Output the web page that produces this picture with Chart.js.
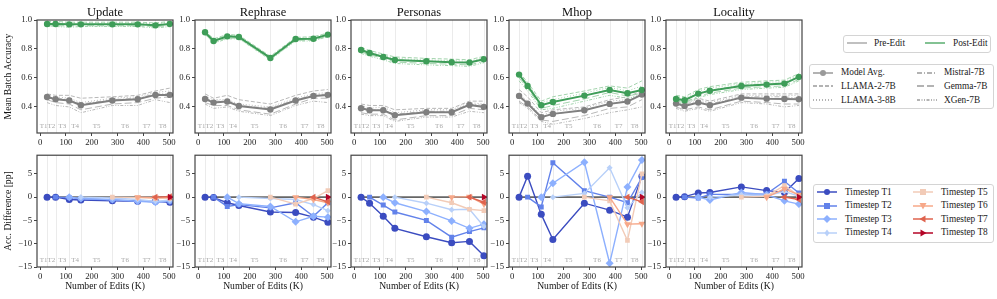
<!DOCTYPE html>
<html>
<head>
<meta charset="utf-8">
<script src="https://cdn.jsdelivr.net/npm/chart.js@4.4.1/dist/chart.umd.min.js"></script>
<style>
  body { margin: 0; width: 997px; height: 299px; position: relative; background: #fff; overflow: hidden;
         font-family: "Liberation Serif", serif; }
  canvas { position: absolute; }
  .box { position: absolute; border: 1px solid #d4d4d4; border-radius: 3px; background: #fff; }
  .txt { position: absolute; white-space: nowrap; font-size: 9.3px; line-height: 12px; color: #222; }
  svg.h { position: absolute; }
</style>
</head>
<body>
<script>
// ---- data ----
const xEdits = [27, 60, 113, 158, 280, 378, 447, 503];
const stepLabels = ["T1", "T2", "T3", "T4", "T5", "T6", "T7", "T8"];
const xTicks = [0, 100, 200, 300, 400, 500];
const accTicks = [0.4, 0.6, 0.8, 1.0];
const diffTicks = [-15, -10, -5, 0, 5];
const tasks = ["Update", "Rephrase", "Personas", "Mhop", "Locality"];
const models = ["LLAMA-2-7B", "LLAMA-3-8B", "Mistral-7B", "Gemma-7B", "XGen-7B"];

const updatePreAvg  = [0.469, 0.453, 0.444, 0.412, 0.444, 0.453, 0.483, 0.483];
const updatePostAvg = [0.972, 0.972, 0.970, 0.970, 0.970, 0.970, 0.963, 0.972];
const updatePre = [
  [0.49, 0.48, 0.48, 0.46, 0.47, 0.48, 0.51, 0.53],
  [0.48, 0.47, 0.46, 0.43, 0.46, 0.47, 0.50, 0.51],
  [0.47, 0.46, 0.45, 0.42, 0.45, 0.46, 0.49, 0.49],
  [0.45, 0.43, 0.42, 0.38, 0.42, 0.43, 0.46, 0.47],
  [0.43, 0.41, 0.40, 0.36, 0.41, 0.41, 0.45, 0.43],
];
const updatePost = [
  [0.99, 0.99, 0.985, 0.985, 0.985, 0.985, 0.98, 0.99],
  [0.98, 0.98, 0.98, 0.98, 0.98, 0.98, 0.975, 0.985],
  [0.975, 0.975, 0.97, 0.97, 0.97, 0.97, 0.965, 0.975],
  [0.96, 0.96, 0.96, 0.96, 0.96, 0.96, 0.955, 0.96],
  [0.955, 0.955, 0.95, 0.955, 0.955, 0.955, 0.945, 0.955],
];

const rephrasePreAvg  = [0.455, 0.430, 0.437, 0.407, 0.382, 0.444, 0.476, 0.483];
const rephrasePostAvg = [0.915, 0.855, 0.887, 0.883, 0.738, 0.869, 0.871, 0.899];
const rephrasePre = [
  [0.49, 0.46, 0.48, 0.45, 0.42, 0.48, 0.51, 0.52],
  [0.47, 0.45, 0.45, 0.42, 0.40, 0.46, 0.49, 0.50],
  [0.46, 0.44, 0.44, 0.41, 0.39, 0.45, 0.48, 0.49],
  [0.43, 0.41, 0.41, 0.38, 0.35, 0.42, 0.46, 0.46],
  [0.42, 0.39, 0.40, 0.37, 0.34, 0.41, 0.44, 0.43],
];
const rephrasePost = [
  [0.925, 0.87, 0.90, 0.895, 0.75, 0.88, 0.885, 0.91],
  [0.92, 0.865, 0.895, 0.89, 0.745, 0.875, 0.88, 0.905],
  [0.915, 0.855, 0.885, 0.885, 0.74, 0.87, 0.87, 0.90],
  [0.905, 0.845, 0.875, 0.875, 0.73, 0.86, 0.86, 0.89],
  [0.90, 0.84, 0.87, 0.87, 0.725, 0.855, 0.855, 0.885],
];

const personasPreAvg  = [0.391, 0.377, 0.377, 0.343, 0.363, 0.363, 0.414, 0.400];
const personasPostAvg = [0.793, 0.772, 0.745, 0.724, 0.715, 0.708, 0.706, 0.729];
const personasPre = [
  [0.42, 0.41, 0.41, 0.38, 0.39, 0.39, 0.44, 0.44],
  [0.41, 0.39, 0.40, 0.36, 0.38, 0.38, 0.43, 0.42],
  [0.40, 0.38, 0.38, 0.35, 0.37, 0.37, 0.42, 0.41],
  [0.36, 0.35, 0.35, 0.31, 0.34, 0.34, 0.39, 0.38],
  [0.35, 0.34, 0.34, 0.30, 0.33, 0.33, 0.37, 0.36],
];
const personasPost = [
  [0.81, 0.79, 0.765, 0.745, 0.735, 0.73, 0.725, 0.75],
  [0.80, 0.78, 0.755, 0.735, 0.725, 0.72, 0.715, 0.74],
  [0.795, 0.775, 0.745, 0.725, 0.715, 0.71, 0.705, 0.73],
  [0.78, 0.76, 0.735, 0.71, 0.70, 0.695, 0.69, 0.715],
  [0.77, 0.75, 0.725, 0.70, 0.69, 0.685, 0.68, 0.705],
];

const mhopPreAvg  = [0.476, 0.423, 0.329, 0.352, 0.377, 0.421, 0.437, 0.485];
const mhopPostAvg = [0.623, 0.545, 0.412, 0.434, 0.478, 0.517, 0.494, 0.517];
const mhopPre = [
  [0.52, 0.47, 0.36, 0.38, 0.40, 0.45, 0.47, 0.51],
  [0.49, 0.44, 0.34, 0.37, 0.39, 0.44, 0.45, 0.50],
  [0.47, 0.42, 0.33, 0.35, 0.38, 0.42, 0.44, 0.49],
  [0.44, 0.40, 0.31, 0.30, 0.34, 0.39, 0.40, 0.45],
  [0.43, 0.39, 0.30, 0.28, 0.32, 0.36, 0.38, 0.40],
];
const mhopPost = [
  [0.64, 0.57, 0.44, 0.47, 0.51, 0.545, 0.53, 0.58],
  [0.63, 0.56, 0.43, 0.45, 0.495, 0.535, 0.51, 0.545],
  [0.62, 0.55, 0.41, 0.435, 0.48, 0.52, 0.49, 0.52],
  [0.60, 0.53, 0.39, 0.41, 0.455, 0.50, 0.475, 0.495],
  [0.58, 0.51, 0.38, 0.39, 0.44, 0.48, 0.46, 0.48],
];

const localityPreAvg  = [0.423, 0.407, 0.430, 0.412, 0.464, 0.457, 0.455, 0.453];
const localityPostAvg = [0.455, 0.446, 0.492, 0.512, 0.545, 0.554, 0.561, 0.607];
const localityPre = [
  [0.45, 0.44, 0.46, 0.44, 0.49, 0.49, 0.49, 0.49],
  [0.44, 0.43, 0.45, 0.43, 0.48, 0.48, 0.48, 0.48],
  [0.43, 0.42, 0.44, 0.42, 0.47, 0.47, 0.47, 0.46],
  [0.40, 0.38, 0.40, 0.38, 0.44, 0.43, 0.42, 0.42],
  [0.39, 0.37, 0.39, 0.37, 0.43, 0.42, 0.40, 0.41],
];
const localityPost = [
  [0.48, 0.47, 0.52, 0.54, 0.57, 0.58, 0.585, 0.63],
  [0.47, 0.46, 0.51, 0.53, 0.56, 0.57, 0.575, 0.62],
  [0.46, 0.45, 0.495, 0.515, 0.55, 0.56, 0.565, 0.61],
  [0.44, 0.43, 0.475, 0.495, 0.53, 0.54, 0.545, 0.59],
  [0.43, 0.42, 0.465, 0.485, 0.52, 0.53, 0.535, 0.58],
];

// accuracy difference [pp]; timestep Ti starts at edit point i
const updateDiff = [
  [0, 0, -0.5, -0.6, -0.8, -0.9, -0.9, -1.1],
  [0, -0.1, -0.3, -0.6, -0.8, -1.0, -0.9],
  [0, -0.3, -0.5, -0.9, -1.1, -0.8],
  [0, -0.2, -0.5, -0.9, -0.6],
  [0, -0.1, -0.3, -0.2],
  [0, -0.1, -0.1],
  [0, 0.1],
  [0],
];
const rephraseDiff = [
  [0, -0.1, -1.2, -1.8, -3.2, -3.3, -4.3, -5.4],
  [0, -2.0, -1.6, -2.3, -1.2, -4.1, -1.2],
  [0, -1.4, -2.0, -5.3, -4.1, -4.3],
  [0, -0.3, -0.5, -1.6, -2.9],
  [0, -1.5, -0.3, 1.4],
  [0, -0.5, -1.2],
  [0, -1.0],
  [0],
];
const personasDiff = [
  [0, -1.3, -4.1, -6.7, -8.5, -9.8, -9.5, -12.6],
  [0, -1.7, -3.2, -5.0, -8.6, -7.4, -6.6],
  [0, -1.2, -3.1, -5.1, -6.7, -5.8],
  [0, -1.3, -2.7, -2.6, -6.3],
  [0, -1.2, -2.6, -2.9],
  [0, 0.1, -1.5],
  [0, -1.1],
  [0],
];
const mhopDiff = [
  [0, 4.5, -3.7, -9.1, -1.3, -2.8, -4.3, 4.5],
  [0, -2.1, 7.4, 1.4, 0.0, -1.2, 4.2],
  [0, 3.0, 7.5, -14.2, 2.2, 8.0],
  [0, 0.8, 6.3, -2.3, 1.0],
  [0, -0.8, -9.3, 5.0],
  [0, -5.8, -5.7],
  [0, -1.0],
  [0],
];
const localityDiff = [
  [0, 0.1, 0.9, 1.0, 2.2, 1.4, 1.0, 4.0],
  [0, -0.2, 0.6, 0.6, 0.7, 3.4, 0.9],
  [0, -0.6, 1.0, 0.5, -0.8, -1.5],
  [0, 0.5, 0.3, 1.2, 0.2],
  [0, 0.2, 2.5, 0.3],
  [0, 1.8, 0.5],
  [0, -0.5],
  [0],
];

// ---- styles ----
const GRAY = "#7f7f7f", GRAY_LIGHT = "#b8b8b8", GREEN = "#3e9d58", GREEN_LIGHT = "#a3d4ad";
const stepColors = ["#3b4cc0", "#6282ea", "#8db0fe", "#b8d0f9", "#f2cbb7", "#f7a889", "#df634e", "#b40426"];
const stepMarkers = [["circle", 0, 3.5], ["rect", 0, 3.5], ["rectRot", 0, 4], ["rectRot", 0, 3],
                     ["rect", 0, 3.3], ["triangle", 180, 4], ["triangle", 270, 4], ["triangle", 90, 4]];
const modelDashes = [[4, 2], [1, 2], [5, 2, 1, 2], [7, 3], [3, 1.5, 1, 1.5, 1, 1.5]];
const tickFont = { family: "Liberation Serif", size: 8.7 };
const labelFont = { family: "Liberation Serif", size: 9.6 };
const plotLefts = [37, 195, 351, 509, 666];
const plotW = 136;

const panels = [
  [updatePreAvg, updatePostAvg, updatePre, updatePost, updateDiff],
  [rephrasePreAvg, rephrasePostAvg, rephrasePre, rephrasePost, rephraseDiff],
  [personasPreAvg, personasPostAvg, personasPre, personasPost, personasDiff],
  [mhopPreAvg, mhopPostAvg, mhopPre, mhopPost, mhopDiff],
  [localityPreAvg, localityPostAvg, localityPre, localityPost, localityDiff],
];

const ptsFrom = (start, ys) => ys.map((y, i) => ({ x: xEdits[start + i], y }));
const minusFmt = v => (v < 0 ? "\u2212" + Math.abs(v) : String(v));

const framePlugin = {
  id: "frame",
  beforeDatasetsDraw(chart) {
    const { ctx, chartArea: a, scales: { x } } = chart;
    ctx.save();
    ctx.strokeStyle = "#ebebeb";
    ctx.lineWidth = 1;
    xEdits.forEach(v => {
      const px = Math.round(x.getPixelForValue(v)) + 0.5;
      ctx.beginPath(); ctx.moveTo(px, a.top); ctx.lineTo(px, a.bottom); ctx.stroke();
    });
    ctx.fillStyle = "#a8a8a8";
    ctx.font = '7px "Liberation Serif"';
    ctx.textAlign = "center";
    ctx.textBaseline = "middle";
    let prev = 0;
    xEdits.forEach((v, i) => {
      ctx.fillText(stepLabels[i], x.getPixelForValue((prev + v) / 2), a.bottom - 6.5);
      prev = v;
    });
    ctx.restore();
  },
  afterDraw(chart, args, opts) {
    const { ctx, chartArea: a } = chart;
    ctx.save();
    ctx.strokeStyle = "#444";
    ctx.lineWidth = 1.2;
    ctx.strokeRect(a.left, a.top, a.right - a.left, a.bottom - a.top);
    if (opts.title) {
      ctx.fillStyle = "#111";
      ctx.font = '12.5px "Liberation Serif"';
      ctx.textAlign = "center";
      ctx.textBaseline = "alphabetic";
      ctx.fillText(opts.title, (a.left + a.right) / 2, 16);
    }
    ctx.restore();
  },
};

function addCanvas(left, top, w, h) {
  const c = document.createElement("canvas");
  c.width = w; c.height = h;
  c.style.left = left + "px"; c.style.top = top + "px";
  c.style.width = w + "px"; c.style.height = h + "px";
  document.body.appendChild(c);
  return c;
}

function makeChart(canvas, datasets, o) {
  datasets.forEach((d, i) => { d.order = datasets.length - i; });
  return new Chart(canvas, {
    type: "line",
    data: { datasets },
    plugins: [framePlugin],
    options: {
      responsive: false,
      animation: false,
      layout: { padding: { top: o.padTop, right: 10, left: 0, bottom: 0 } },
      elements: { line: { tension: 0 } },
      plugins: { legend: { display: false }, tooltip: { enabled: false }, frame: { title: o.title } },
      scales: {
        x: {
          type: "linear", min: -12, max: 515,
          afterBuildTicks: s => { s.ticks = xTicks.map(v => ({ value: v })); },
          afterFit: s => { s.height = o.xH; },
          grid: { drawOnChartArea: false, tickLength: 3, color: "#444" },
          border: { display: false },
          ticks: { font: tickFont, color: "#222", padding: 1, maxRotation: 0, autoSkip: false, callback: v => v },
          title: { display: !!o.xTitle, text: o.xTitle, font: labelFont, color: "#111", padding: { top: 0, bottom: 7 } },
        },
        y: {
          type: "linear", min: o.yMin, max: o.yMax,
          afterBuildTicks: s => { s.ticks = o.yTicks.map(v => ({ value: v })); },
          afterFit: s => { s.width = o.yW; },
          grid: { drawOnChartArea: false, tickLength: 3, color: "#444" },
          border: { display: false },
          ticks: { font: tickFont, color: "#222", padding: 2, autoSkip: false, callback: o.fmt },
          title: { display: !!o.yTitle, text: o.yTitle, font: labelFont, color: "#111", padding: { top: 3, bottom: 0 } },
        },
      },
    },
  });
}

panels.forEach(([preAvg, postAvg, pre, post, diff], c) => {
  const yW = c === 0 ? 37 : 26;
  const left = plotLefts[c] - yW;

  // top row: mean batch accuracy
  const top = [];
  pre.forEach((row, m) => top.push({ data: ptsFrom(0, row), borderColor: GRAY_LIGHT, borderWidth: 1,
    borderDash: modelDashes[m], pointRadius: 0 }));
  post.forEach((row, m) => top.push({ data: ptsFrom(0, row), borderColor: GREEN_LIGHT, borderWidth: 1,
    borderDash: modelDashes[m], pointRadius: 0 }));
  [[preAvg, GRAY], [postAvg, GREEN]].forEach(([row, col]) => top.push({
    data: ptsFrom(0, row), borderColor: col, backgroundColor: col, pointBackgroundColor: col,
    borderWidth: 2, pointRadius: 3.2, pointBorderWidth: 0 }));
  makeChart(addCanvas(left, 0, yW + plotW + 10, 148), top, {
    padTop: 20, xH: 15, yW, yMin: 0.22, yMax: 1.0, yTicks: accTicks, fmt: v => v.toFixed(1),
    title: tasks[c], yTitle: c === 0 ? "Mean Batch Accuracy" : "",
  });

  // bottom row: accuracy difference per timestep
  const bottom = [{ data: ptsFrom(0, xEdits.map(() => 0)), borderColor: "#666", borderWidth: 1.8, pointRadius: 0 }];
  diff.forEach((row, t) => {
    const [style, rot, r] = stepMarkers[t];
    const col = stepColors[t];
    bottom.push({ data: ptsFrom(t, row), borderColor: col, backgroundColor: col, pointBackgroundColor: col,
      borderWidth: 1.4, pointStyle: style, pointRotation: rot, pointRadius: r, pointBorderWidth: 0 });
  });
  makeChart(addCanvas(left, 148, yW + plotW + 10, 151), bottom, {
    padTop: 6, xH: 32, yW, yMin: -15, yMax: 9, yTicks: diffTicks, fmt: minusFmt,
    xTitle: "Number of Edits (K)", yTitle: c === 0 ? "Acc. Difference [pp]" : "",
  });
});

// ---- legends (HTML) ----
function box(l, t, w, h) {
  const d = document.createElement("div");
  d.className = "box";
  Object.assign(d.style, { left: l + "px", top: t + "px", width: w + "px", height: h + "px" });
  document.body.appendChild(d);
}
function markerSvg(style, col) {
  switch (style) {
    case "circle": return `<circle cx="10" cy="5" r="3" fill="${col}"/>`;
    case "rect": return `<rect x="7" y="2" width="6" height="6" fill="${col}"/>`;
    case "diamond": return `<polygon points="10,1 14,5 10,9 6,5" fill="${col}"/>`;
    case "thin": return `<polygon points="10,1.5 12.5,5 10,8.5 7.5,5" fill="${col}"/>`;
    case "down": return `<polygon points="6.5,2 13.5,2 10,8.5" fill="${col}"/>`;
    case "left": return `<polygon points="6.5,5 12.5,1.5 12.5,8.5" fill="${col}"/>`;
    case "right": return `<polygon points="13.5,5 7.5,1.5 7.5,8.5" fill="${col}"/>`;
  }
  return "";
}
function item(hx, y, text, tx, col, dash, marker) {
  const s = document.createElementNS("http://www.w3.org/2000/svg", "svg");
  s.setAttribute("class", "h");
  s.setAttribute("width", "20"); s.setAttribute("height", "10");
  s.style.left = hx + "px"; s.style.top = (y - 5) + "px";
  s.innerHTML = `<line x1="0" y1="5" x2="20" y2="5" stroke="${col}" stroke-width="1.5"` +
    (dash ? ` stroke-dasharray="${dash.join(" ")}"` : "") + "/>" + (marker ? markerSvg(marker, col) : "");
  document.body.appendChild(s);
  const t = document.createElement("div");
  t.className = "txt";
  t.textContent = text;
  t.style.left = tx + "px"; t.style.top = (y - 6.5) + "px";
  document.body.appendChild(t);
}

box(843, 35, 146, 16);
item(847, 43, "Pre-Edit", 874, "#ababab");
item(925, 43, "Post-Edit", 953, "#5aae6f");

const modelLegend = ["Model Avg.", ...models];
const modelLegendOrder = [[0, 0], [1, 1], [2, 2], [3, 0], [4, 1], [5, 2]];
box(809, 64, 183, 43);
modelLegendOrder.forEach(([k, row]) => {
  const col2 = k >= 3;
  const y = [72.5, 86, 100][row];
  item(col2 ? 917 : 813, y, modelLegend[k], col2 ? 944 : 841, "#9a9a9a",
       k === 0 ? null : modelDashes[k - 1], k === 0 ? "circle" : null);
});

const stepLegendMarkers = ["circle", "rect", "diamond", "thin", "rect", "down", "left", "right"];
box(813, 184, 179, 57);
stepLabels.forEach((lab, t) => {
  const col2 = t >= 4;
  const y = [192, 205.5, 219.3, 232.7][t % 4];
  item(col2 ? 913 : 817, y, "Timestep " + lab, col2 ? 941 : 845, stepColors[t], null, stepLegendMarkers[t]);
});
</script>
</body>
</html>
